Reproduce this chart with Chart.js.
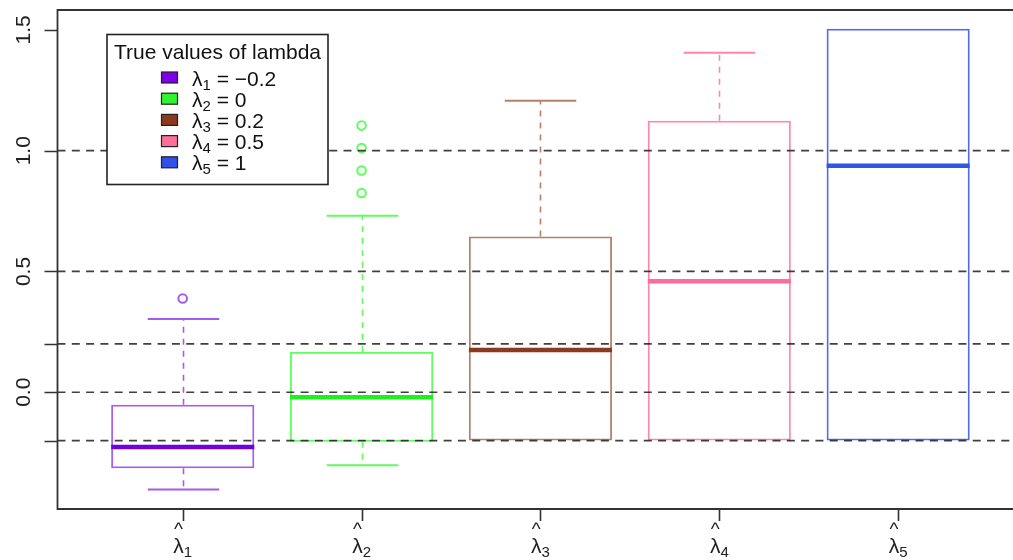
<!DOCTYPE html>
<html><head><meta charset="utf-8">
<script src="https://cdn.jsdelivr.net/npm/chart.js@4.4.1/dist/chart.umd.min.js"></script>
<style>html,body{margin:0;padding:0;background:#fff}#wrap{width:1013px;height:560px}</style>
</head><body><div id="wrap"><canvas id="c" width="1013" height="560"></canvas></div>
<script>
// ---- data ----
const categories = ['1', '2', '3', '4', '5'];            // subscripts of lambda-hat
const trueValueLabels = ['\u22120.2', '0', '0.2', '0.5', '1'];
const lowerWhisker = [-0.403, -0.302, -0.200, -0.200, -0.200];
const q1Values     = [-0.315, -0.205, -0.200, -0.200, -0.200];
const medians      = [-0.227, -0.021, 0.175, 0.460, 0.938];
const q3Values     = [-0.052, 0.167, 0.645, 1.124, 1.505];
const upperWhisker = [0.303, 0.731, 1.207, 1.406, 1.505];
const outliers1 = [0.388];
const outliers2 = [1.104, 1.011, 0.918, 0.825];
const outliers3 = [];
const outliers4 = [];
const outliers5 = [];
const referenceLines = [-0.2, 0, 0.2, 0.5, 1];
const yTickValues = [-0.2, 0, 0.2, 0.5, 1, 1.5];
const yTickLabels = ['', '0.0', '', '0.5', '1.0', '1.5'];
const legendTitle = 'True values of lambda';

// ---- styles ----
const lineColors   = ['#A55AF0', '#5CFF5C', '#B4806C', '#FF85AE', '#4D6BF2'];
const medianColors = ['#7000DD', '#1FEE1F', '#8B3A1E', '#FF6C9C', '#3355E6'];
const swatchColors = ['#7D00E8', '#2EF52E', '#8B3A1E', '#FF6F9C', '#3050E8'];
const FONT = '"Liberation Sans", Arial, Helvetica, sans-serif';
const allOutliers = [outliers1, outliers2, outliers3, outliers4, outliers5];

const outlierDatasets = allOutliers.map((arr, i) => ({
  type: 'scatter',
  data: arr.map(v => ({x: i + 1, y: v})),
  pointRadius: 4.3,
  pointBorderWidth: 2,
  pointBackgroundColor: 'rgba(0,0,0,0)',
  pointBorderColor: lineColors[i],
  pointHoverRadius: 4.3
}));

const boxPlugin = {
  id: 'boxparts',
  beforeDatasetsDraw(chart) {
    const {ctx} = chart;
    const xs = chart.scales.x, ys = chart.scales.y;
    ctx.save();
    categories.forEach((c, i) => {
      const cx = Math.round(xs.getPixelForValue(i + 1)) + 0.5;
      const half = (xs.getPixelForValue(i + 1.2) - xs.getPixelForValue(i + 1));
      ctx.strokeStyle = lineColors[i];
      ctx.lineWidth = 1.6;
      ctx.setLineDash([6, 6]);
      ctx.beginPath();
      ctx.moveTo(cx, ys.getPixelForValue(q3Values[i]));
      ctx.lineTo(cx, ys.getPixelForValue(upperWhisker[i]));
      ctx.moveTo(cx, ys.getPixelForValue(q1Values[i]));
      ctx.lineTo(cx, ys.getPixelForValue(lowerWhisker[i]));
      ctx.stroke();
      ctx.setLineDash([]);
      ctx.lineWidth = 2;
      ctx.beginPath();
      if (upperWhisker[i] > q3Values[i]) {
        const y = ys.getPixelForValue(upperWhisker[i]);
        ctx.moveTo(cx - half, y); ctx.lineTo(cx + half, y);
      }
      if (lowerWhisker[i] < q1Values[i]) {
        const y = ys.getPixelForValue(lowerWhisker[i]);
        ctx.moveTo(cx - half, y); ctx.lineTo(cx + half, y);
      }
      ctx.stroke();
    });
    ctx.restore();
  },
  afterDatasetsDraw(chart) {
    const {ctx, chartArea: a} = chart;
    const xs = chart.scales.x, ys = chart.scales.y;
    ctx.save();
    // medians
    categories.forEach((c, i) => {
      const l = xs.getPixelForValue(i + 0.6), r = xs.getPixelForValue(i + 1.4);
      const y = ys.getPixelForValue(medians[i]);
      ctx.strokeStyle = medianColors[i];
      ctx.lineWidth = 4.5;
      ctx.beginPath(); ctx.moveTo(l, y); ctx.lineTo(r, y); ctx.stroke();
    });
    // dashed reference lines
    ctx.strokeStyle = 'rgba(30,30,30,0.85)';
    ctx.lineWidth = 1.7;
    ctx.setLineDash([8, 6.3]);
    referenceLines.forEach(v => {
      const y = ys.getPixelForValue(v);
      ctx.beginPath(); ctx.moveTo(a.left, y); ctx.lineTo(a.right, y); ctx.stroke();
    });
    ctx.setLineDash([]);
    // frame (right side lies beyond the picture)
    ctx.strokeStyle = '#333';
    ctx.lineWidth = 1.8;
    ctx.beginPath();
    ctx.moveTo(a.right + 5, a.top); ctx.lineTo(a.left, a.top); ctx.lineTo(a.left, a.bottom); ctx.lineTo(a.right + 5, a.bottom);
    ctx.stroke();
    // y ticks and labels
    ctx.lineWidth = 1.6;
    ctx.beginPath();
    yTickValues.forEach(v => {
      const y = Math.round(ys.getPixelForValue(v)) + 0.5;
      ctx.moveTo(a.left - 13, y); ctx.lineTo(a.left, y);
    });
    ctx.stroke();
    ctx.fillStyle = '#222';
    ctx.font = '21px ' + FONT;
    ctx.textAlign = 'center';
    ctx.textBaseline = 'alphabetic';
    yTickValues.forEach((v, k) => {
      if (!yTickLabels[k]) return;
      const y = ys.getPixelForValue(v);
      ctx.save(); ctx.translate(a.left - 28, y); ctx.rotate(-Math.PI / 2);
      ctx.fillText(yTickLabels[k], 0, 0); ctx.restore();
    });
    // x axis line, ticks and labels
    ctx.beginPath();
    ctx.moveTo(xs.getPixelForValue(1), a.bottom); ctx.lineTo(xs.getPixelForValue(categories.length), a.bottom);
    categories.forEach((c, i) => {
      const x = Math.round(xs.getPixelForValue(i + 1)) + 0.5;
      ctx.moveTo(x, a.bottom); ctx.lineTo(x, a.bottom + 12);
    });
    ctx.stroke();
    categories.forEach((c, i) => {
      const cx = xs.getPixelForValue(i + 1);
      ctx.font = '21px ' + FONT;
      const wl = ctx.measureText('\u03BB').width;
      ctx.font = '15px ' + FONT;
      const ws = ctx.measureText(c).width;
      const x0 = cx - (wl + ws) / 2;
      ctx.textAlign = 'left';
      ctx.font = '21px ' + FONT;
      ctx.fillText('\u03BB', x0, a.bottom + 44);
      ctx.font = '15px ' + FONT;
      ctx.fillText(c, x0 + wl, a.bottom + 48);
      ctx.textAlign = 'center';
      ctx.font = '19px ' + FONT;
      ctx.fillText('^', x0 + wl / 2, a.bottom + 26);
    });
    // legend
    const lx = a.left + 49.5, ly = a.top + 24.5, lw = 221, lh = 150;
    ctx.fillStyle = '#fff';
    ctx.fillRect(lx, ly, lw, lh);
    ctx.strokeStyle = '#222';
    ctx.lineWidth = 1.6;
    ctx.strokeRect(lx, ly, lw, lh);
    ctx.fillStyle = '#111';
    ctx.font = '21px ' + FONT;
    ctx.textAlign = 'center';
    ctx.fillText(legendTitle, lx + lw / 2, ly + 24);
    ctx.textAlign = 'left';
    categories.forEach((c, i) => {
      const base = ly + 51 + i * 21.2;
      ctx.fillStyle = swatchColors[i];
      ctx.fillRect(lx + 54.5, base - 13.5, 16, 11);
      ctx.strokeStyle = '#222';
      ctx.lineWidth = 1.2;
      ctx.strokeRect(lx + 54.5, base - 13.5, 16, 11);
      ctx.fillStyle = '#111';
      let x = lx + 85;
      ctx.font = '21px ' + FONT;
      ctx.fillText('\u03BB', x, base);
      x += ctx.measureText('\u03BB').width;
      ctx.font = '15px ' + FONT;
      ctx.fillText(c, x, base + 4);
      x += ctx.measureText(c).width;
      ctx.font = '21px ' + FONT;
      ctx.fillText(' = ' + trueValueLabels[i], x, base);
    });
    ctx.restore();
  }
};

new Chart(document.getElementById('c'), {
  type: 'bar',
  data: {
    datasets: [{
      type: 'bar',
      data: categories.map((c, i) => ({x: i + 1, y: [q1Values[i], q3Values[i]]})),
      backgroundColor: 'rgba(0,0,0,0)',
      borderColor: lineColors,
      borderWidth: 1.8,
      borderSkipped: false,
      barPercentage: 0.8,
      categoryPercentage: 1
    }, ...outlierDatasets]
  },
  options: {
    responsive: false,
    animation: false,
    devicePixelRatio: 1,
    layout: {autoPadding: false, padding: {left: 57.5, top: 10, right: 0, bottom: 51}},
    plugins: {legend: {display: false}, tooltip: {enabled: false}},
    scales: {
      x: {
        type: 'linear', display: false, min: 0.3, max: 5.642, offset: false,
        afterBuildTicks: s => { s.ticks = categories.map((c, i) => ({value: i + 1})); }
      },
      y: {
        type: 'linear', display: false, min: -0.4835, max: 1.5826,
        afterBuildTicks: s => { s.ticks = yTickValues.map(v => ({value: v})); }
      }
    }
  },
  plugins: [boxPlugin]
});
</script>
</body></html>
